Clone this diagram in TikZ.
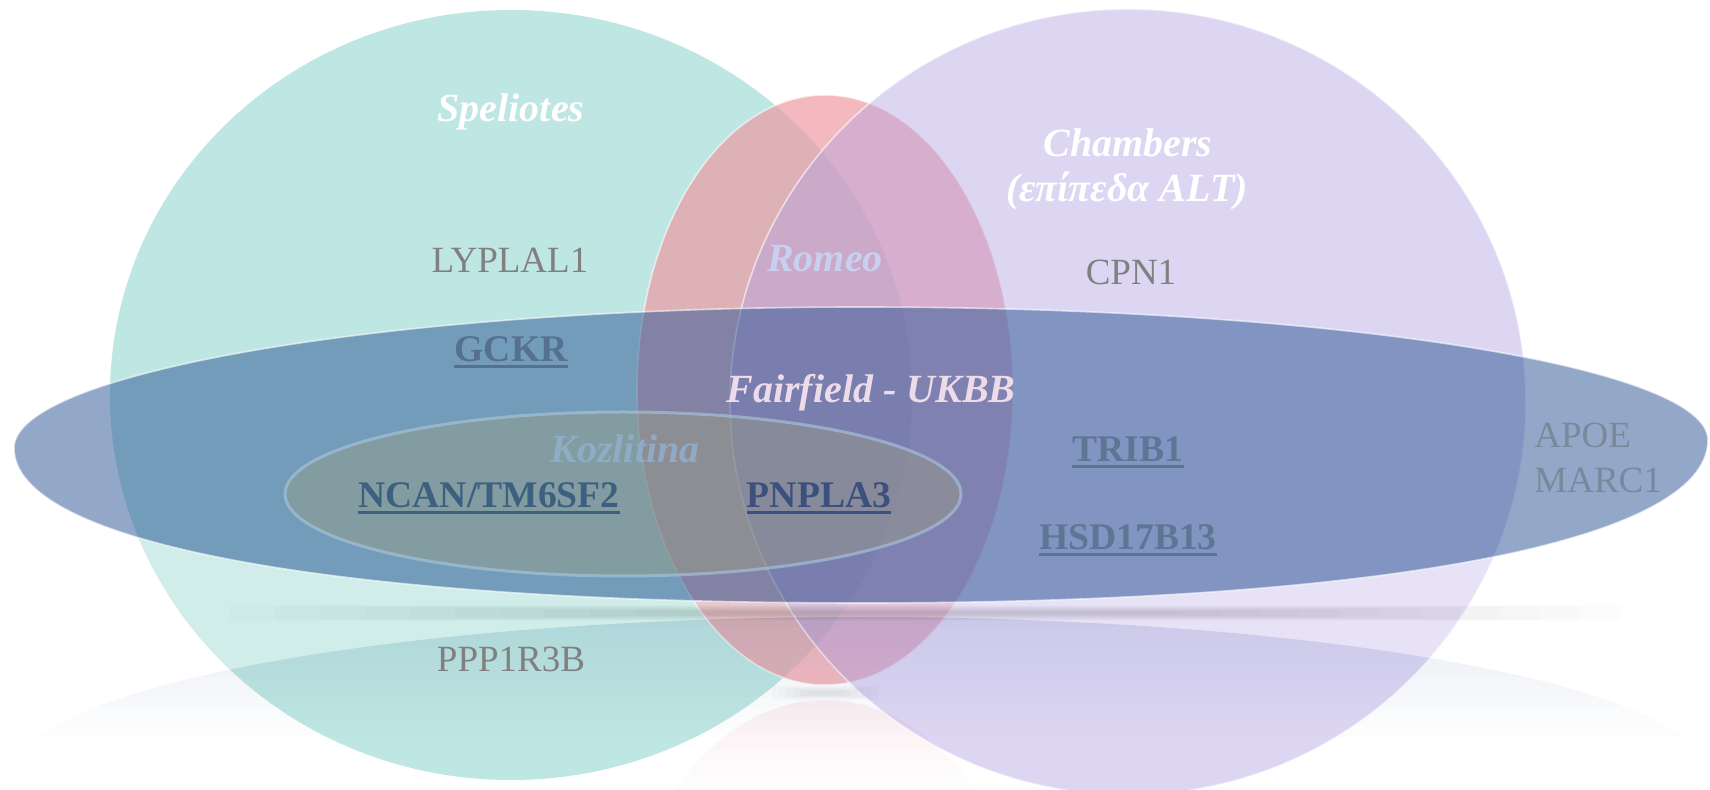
\documentclass[tikz,border=0pt]{standalone}
\usepackage{fontspec}
\setmainfont{Liberation Serif}

\definecolor{tealc}{RGB}{190,230,226}
\definecolor{pinkc}{RGB}{239,151,161}
\definecolor{purplec}{RGB}{177,160,228}
\definecolor{bluec}{RGB}{48,88,150}
\definecolor{kozc}{RGB}{156,158,124}
\definecolor{kozline}{RGB}{169,200,224}
\definecolor{genegray}{RGB}{128,128,128}
\definecolor{apoegray}{RGB}{122,136,155}
\definecolor{romeoc}{RGB}{201,208,239}
\definecolor{fairc}{RGB}{238,219,233}
\definecolor{kozt}{RGB}{144,178,208}
\definecolor{ulA}{RGB}{85,112,145}
\definecolor{ulB}{RGB}{62,96,128}
\definecolor{ulC}{RGB}{60,80,125}
\definecolor{ulD}{RGB}{95,117,148}

\begin{document}
\begin{tikzpicture}[x=0.5pt,y=-0.5pt,
  settitle/.style={font=\fontsize{20pt}{24pt}\selectfont\bfseries\itshape, inner sep=0pt, anchor=base},
  gene/.style={font=\fontsize{18.5pt}{22pt}\selectfont, text=genegray, inner sep=0pt, anchor=base},
  keygene/.style={font=\fontsize{18.8pt}{22pt}\selectfont\bfseries, inner sep=0pt, anchor=base},
  uline/.style={line width=1.4pt},
  rim/.style={draw=white, line width=0.8pt, draw opacity=0.6},
  shadowlayer/.style={fill=black, fill opacity=0.011}
]
\useasboundingbox (0,0) rectangle (1710,790);
\fill[white] (0,0) rectangle (1710,790);

% faint mirror image of Romeo, seen in the gap between the two big circles
\begin{scope}
  \clip (825,1000) ellipse [x radius=210, y radius=300];
  \foreach \i in {0,...,8}
    \fill[pinkc, fill opacity={0.14*(1-\i/9)}] (600,{700+10*\i}) rectangle (1060,{710+10*\i});
\end{scope}

% Speliotes
\fill[tealc] (511,395) ellipse [x radius=401, y radius=385];
% Romeo
\path[fill=pinkc, fill opacity=0.67, rim] (825,390) ellipse [x radius=188, y radius=295];
% Chambers
\path[fill=purplec, fill opacity=0.43, rim] (1128,402) ellipse [x radius=398, y radius=393];

% soft shadow under the Romeo set
\foreach \i in {0,...,5}
  \fill[shadowlayer, fill opacity=0.016] ({772+7*\i},{686+\i}) rectangle ({878-7*\i},{700-\i});

% light band and mirror image below the Fairfield - UKBB set
\fill[white, fill opacity=0.3]
  (14,448) .. controls (14,544) and (336,603) .. (861,603)
  .. controls (1386,603) and (1708,541) .. (1708,440)
  -- (1708,775) .. controls (1708,688) and (1329,617) .. (861,617)
  .. controls (393,617) and (14,688) .. (14,775) -- cycle;
\begin{scope}
  \clip (861,775) ellipse [x radius=847, y radius=158];
  \foreach \i in {0,...,11}
    \fill[bluec, fill opacity={0.1*(1-\i/12)}] (0,{617+10*\i}) rectangle (1710,{627+10*\i});
\end{scope}

% Fairfield - UKBB
\path[fill=bluec, fill opacity=0.52, rim]
  (14,448) .. controls (14,372) and (393,307) .. (861,307)
  .. controls (1329,307) and (1708,366) .. (1708,440)
  .. controls (1708,541) and (1386,603) .. (861,603)
  .. controls (336,603) and (14,544) .. (14,448) -- cycle;

% soft shadow line under the large ellipse
\foreach \i in {0,...,11}
  \fill[shadowlayer] ({230+45*\i},{605+0.6*\i}) rectangle ({1620-40*\i},{621-0.6*\i});

% Kozlitina
\path[fill=kozc, fill opacity=0.4, draw=kozline, draw opacity=0.6, line width=1.5pt]
  (623,494) ellipse [x radius=338, y radius=82];

% set names
\node[settitle, text=white] (speliotes) at (511,122) {Speliotes};
\node[settitle, text=white] (chambers) at (1128,157) {Chambers};
\node[settitle, text=white] (alt) at (1127,202) {(επίπεδα ALT)};
\node[settitle, text=romeoc] (romeo) at (825,272) {Romeo};
\node[settitle, text=fairc] (fairfield) at (871,403) {Fairfield - UKBB};
\node[settitle, text=kozt, text opacity=0.8] (kozlitina) at (625,463) {Kozlitina};

% genes
\node[gene] (lyplal1) at (510,273) {LYPLAL1};
\node[gene] (cpn1) at (1131,285) {CPN1};
\node[gene] (ppp1r3b) at (511,672) {PPP1R3B};
\node[gene, text=apoegray, anchor=base west] (apoe) at (1534,448) {APOE};
\node[gene, text=apoegray, anchor=base west] (marc1) at (1534,493) {MARC1};

\node[keygene, text=ulA] (gckr) at (511,362) {GCKR};
\node[keygene, text=ulB] (ncan) at (489,508) {NCAN/TM6SF2};
\node[keygene, text=ulC] (pnpla3) at (819,508) {PNPLA3};
\node[keygene, text=ulD] (trib1) at (1128,462) {TRIB1};
\node[keygene, text=ulD] (hsd) at (1128,550) {HSD17B13};

\draw[uline, ulA] ([yshift=-2.2pt]gckr.base west) -- ([yshift=-2.2pt]gckr.base east);
\draw[uline, ulB] ([yshift=-2.2pt]ncan.base west) -- ([yshift=-2.2pt]ncan.base east);
\draw[uline, ulC] ([yshift=-2.2pt]pnpla3.base west) -- ([yshift=-2.2pt]pnpla3.base east);
\draw[uline, ulD] ([yshift=-2.2pt]trib1.base west) -- ([yshift=-2.2pt]trib1.base east);
\draw[uline, ulD] ([yshift=-2.2pt]hsd.base west) -- ([yshift=-2.2pt]hsd.base east);
\end{tikzpicture}
\end{document}
